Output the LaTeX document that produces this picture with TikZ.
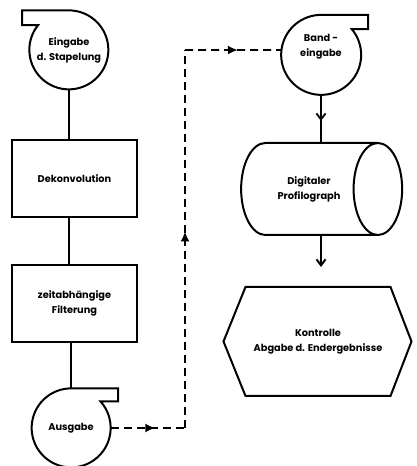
\documentclass[tikz,border=0pt]{standalone}
\usepackage{fontspec}
\setmainfont{Poppins}
\usepackage{tikz}
\usetikzlibrary{shapes,arrows.meta,decorations.markings}

\begin{document}
\begin{tikzpicture}[x=1pt, y=1pt,
  line/.style={line width=2pt},
  tape/.style={circle, minimum size=79pt, inner sep=0pt, align=center, font=\lbl},
  block/.style={rectangle, draw, line width=2pt, minimum width=125pt, minimum height=77pt, align=center, font=\lbl},
  drum/.style={cylinder, draw, line width=2pt, shape aspect=1.9, minimum width=92pt, minimum height=161pt, inner sep=0pt, align=center, font=\lbl},
  flow/.style={line width=1.8pt, dash pattern=on 8pt off 5pt},
  midarrow/.style={postaction={decorate}, decoration={markings,
    mark=at position #1 with {\arrow{Latex[length=10pt,width=9pt]}}}},
  midbarb/.style={postaction={decorate}, decoration={markings,
    mark=at position #1 with {\arrow{Straight Barb[length=6pt,width=9pt,line width=1.8pt]}}}}
]
\newcommand{\lbl}{\bfseries\fontsize{9.8}{15}\selectfont}
\useasboundingbox (0,0) rectangle (416,466);

% left column
\node[tape] (ein) at (69,416) {Eingabe\\d. Stapelung};
\node[block] (dek) at (74.5,287.5) {Dekonvolution};
\node[block] (filt) at (74.5,162.5) {zeitabhängige\\Filterung};
\node[tape] (aus) at (71,38) {Ausgabe};

\draw[line] (ein.north) -- ++(-47,0) |- (ein.141) arc[start angle=141, end angle=450, radius=39.5];
\draw[line] (aus.north) -- ++(47,0) |- (aus.42) arc[start angle=42, end angle=-270, radius=39.5];

\draw[line] (ein.south) -- (ein.south |- dek.north);
\draw[line] (dek.south -| ein.south) -- (filt.north -| ein.south);
\draw[line] (filt.south -| aus.north) -- (aus.north);

% right column
\node[tape, minimum size=80pt] (band) at (321,411) {Band -\\eingabe\\[4pt]};
\node[drum] (prof) at (309,277) {Digitaler\\Profilograph};
\node[block, draw=none, minimum width=143pt, minimum height=107pt] (ktr) at (318,124.5) {Kontrolle\\Abgabe d. Endergebnisse};

\draw[line] (band.north) -- ++(47,0) |- (band.40) arc[start angle=40, end angle=-270, radius=40];
\draw[line] (ktr.north west) -- (ktr.north east) -- ([xshift=21pt]ktr.east) -- (ktr.south east)
  -- (ktr.south west) -- ([xshift=-22pt]ktr.west) -- cycle;

\draw[line, midbarb=0.55] (band.south) -- (band.south |- prof.north);
\draw[line, -{Straight Barb[length=6pt,width=9pt]}] (band.south |- prof.south) -- ([yshift=20pt]ktr.north -| band.south);

% tape transfer
\coordinate (c1) at (185,38);
\coordinate (c2) at (185,416);
\draw[flow, midarrow=0.6] (aus.east) -- (c1);
\draw[flow, midarrow=0.52] (c1) -- (c2);
\draw[flow, midarrow=0.55] (c2) -- (band.173);
\end{tikzpicture}
\end{document}
